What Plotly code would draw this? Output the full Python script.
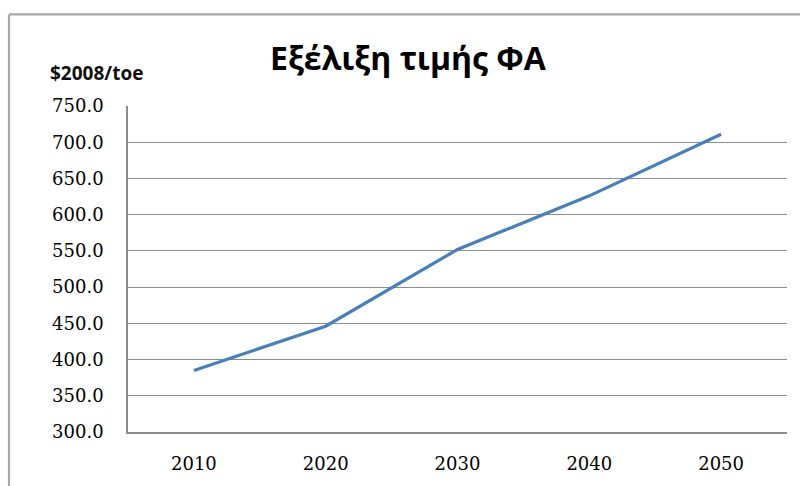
import plotly.graph_objects as go

# Natural gas price projection, $2008 per toe
years = ["2010", "2020", "2030", "2040", "2050"]
price = [385, 446, 552, 626, 711]

y_ticks = [300, 350, 400, 450, 500, 550, 600, 650, 700, 750]

title_text = "Εξέλιξη τιμής ΦΑ"
unit_text = "$2008/toe"

fig = go.Figure()
fig.add_trace(go.Scatter(
    x=years, y=price, mode="lines",
    line=dict(color="#4A7EBB", width=3.2),
    hoverinfo="x+y",
))

grid_col = "#8C8C8C"
tick_font = dict(family="DejaVu Serif", size=18, color="#000000")

fig.update_layout(
    width=800, height=486,
    margin=dict(l=128, r=13, t=106, b=49),
    paper_bgcolor="white", plot_bgcolor="white",
    showlegend=False,
    xaxis=dict(
        type="category", range=[-0.5, 4.5], showgrid=False,
        showline=True, linecolor=grid_col, linewidth=1.5,
        ticks="", tickfont=tick_font, ticklabelstandoff=15,
        fixedrange=True,
    ),
    yaxis=dict(
        range=[300, 750], tickvals=y_ticks, tickformat=".1f",
        showgrid=True, gridcolor=grid_col, gridwidth=1.3,
        showline=True, linecolor=grid_col, linewidth=1.5,
        zeroline=False, ticks="", tickfont=tick_font,
        ticklabelstandoff=19, fixedrange=True,
    ),
    annotations=[
        dict(text="<b>" + title_text + "</b>", xref="paper", yref="paper",
             x=0.4264, y=1.148, xanchor="center", yanchor="middle",
             showarrow=False,
             font=dict(family="Open Sans", size=32, color="#000000")),
        dict(text="<b>" + unit_text + "</b>", xref="paper", yref="paper",
             x=-0.1214, y=1.0997, xanchor="left", yanchor="middle",
             showarrow=False,
             font=dict(family="Open Sans", size=19, color="#111111")),
    ],
    shapes=[
        # chart frame: left and top edges
        dict(type="line", xref="paper", yref="paper",
             x0=-0.1806, x1=-0.1806, y0=-0.3, y1=1.281,
             line=dict(color="#A6A6A6", width=2.2)),
        dict(type="line", xref="paper", yref="paper",
             x0=-0.1806, x1=1.1, y0=1.281, y1=1.281,
             line=dict(color="#A6A6A6", width=2.2)),
    ],
)

fig.write_html("out.html")
